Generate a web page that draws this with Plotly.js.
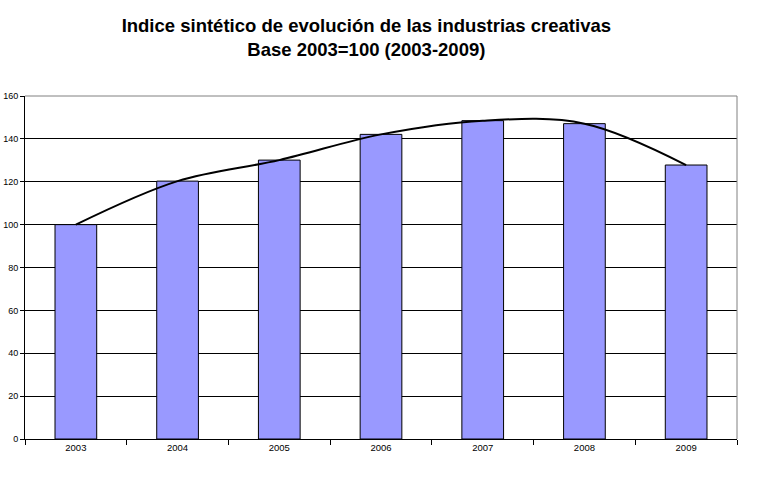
<!DOCTYPE html>
<html><head><meta charset="utf-8">
<script src="https://cdn.plot.ly/plotly-3.0.1.min.js"></script>
<style>html,body{margin:0;padding:0;background:#fff;overflow:hidden}#c{width:768px;height:491px}</style>
</head><body><div id="c"></div>
<script>
var years = ['2003','2004','2005','2006','2007','2008','2009'];
var indexValues = [100, 120.3, 130.1, 142.1, 148.5, 147.1, 127.8];
var yTicks = [0,20,40,60,80,100,120,140,160];

var bars = {
  type:'bar', x:years, y:indexValues, width:0.41,
  marker:{color:'#9999FF', line:{color:'#000', width:1}},
  hoverinfo:'none'
};
var curve = {
  type:'scatter', mode:'lines', x:years, y:indexValues,
  line:{color:'#000', width:2, shape:'spline', smoothing:1},
  hoverinfo:'none'
};
var layout = {
  width:768, height:491,
  margin:{l:25, r:31, t:96, b:52},
  paper_bgcolor:'#fff', plot_bgcolor:'#fff',
  showlegend:false,
  title:{text:'<b>Indice sintético de evolución de las industrias creativas<br>Base 2003=100 (2003-2009)</b>',
    font:{family:'Liberation Sans, Arial, sans-serif', size:18.5, color:'#000'},
    x:0.477, xanchor:'center', y:0.934, yanchor:'top'},
  xaxis:{type:'category', range:[-0.5,6.5], tickson:'boundaries', ticks:'outside', ticklen:5, tickcolor:'#000',
    showline:true, linecolor:'#000', linewidth:1, showgrid:false, mirror:false,
    tickfont:{family:'Liberation Sans, Arial, sans-serif', size:9.5, color:'#000'}, fixedrange:true},
  yaxis:{range:[0,160], tickvals:yTicks, ticks:'outside', ticklen:4, tickcolor:'#000',
    showline:true, linecolor:'#000', linewidth:1, showgrid:true, gridcolor:'#000', gridwidth:1,
    zeroline:false,
    tickfont:{family:'Liberation Sans, Arial, sans-serif', size:9, color:'#000'}, fixedrange:true},
  shapes:[
    {type:'line', xref:'paper', yref:'paper', x0:0, x1:1, y0:1, y1:1, line:{color:'#808080', width:1}},
    {type:'line', xref:'paper', yref:'paper', x0:1, x1:1, y0:0, y1:1, line:{color:'#808080', width:1}}
  ]
};
Plotly.newPlot('c', [bars, curve], layout, {staticPlot:true});
</script></body></html>
